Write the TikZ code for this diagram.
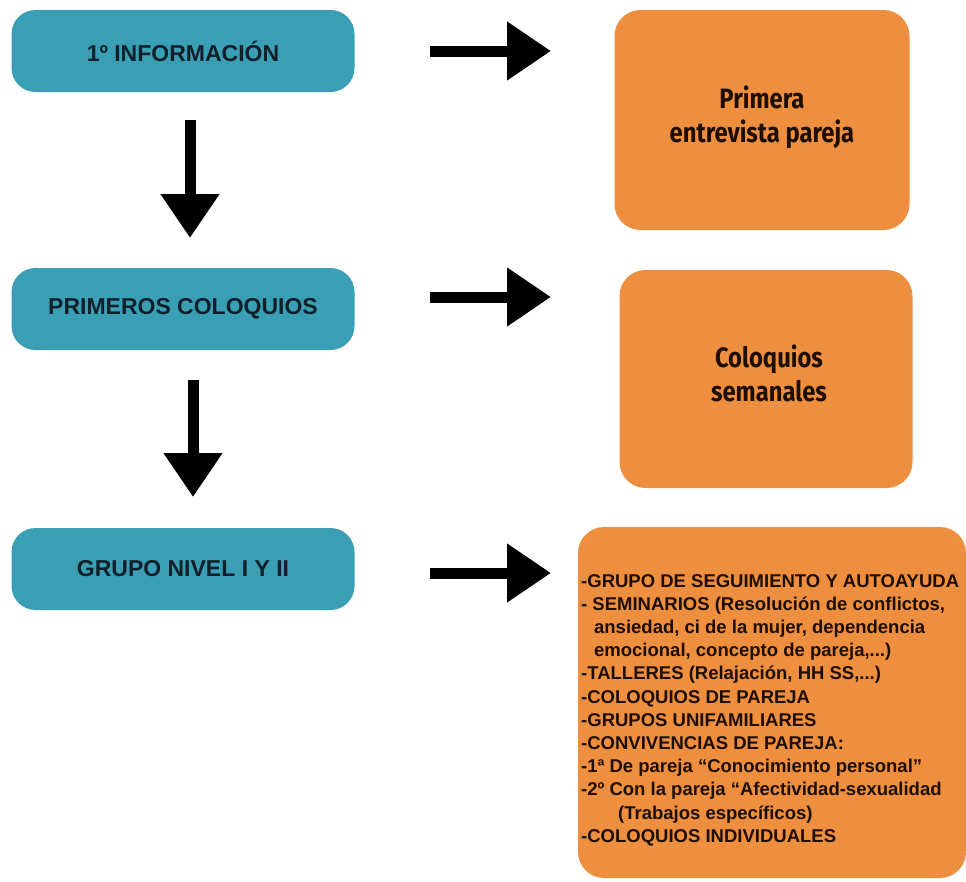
\documentclass[tikz,border=0pt]{standalone}
\usepackage{fontspec}
\setmainfont{Liberation Sans}
\newfontfamily\condfont[FakeStretch=0.85]{Fira Sans}
\usetikzlibrary{arrows.meta,calc}
\definecolor{tealbox}{HTML}{3A9FB5}
\definecolor{orangebox}{HTML}{EE8E3F}
\definecolor{darktxt}{HTML}{10202A}
\definecolor{browntxt}{HTML}{1E0E00}
\tikzset{
  bluebox/.style={fill=tealbox, rounded corners=24pt, minimum width=343pt, minimum height=82pt,
    inner sep=0pt, font=\fontsize{23}{27}\selectfont\bfseries, text=darktxt},
  orangeboxst/.style={fill=orangebox, rounded corners=26pt, inner sep=0pt},
  orangetext/.style={font=\condfont\fontsize{28}{34}\selectfont\bfseries, text=browntxt, align=center},
  bigarrow/.style={line width=11pt, -{Triangle[width=56pt,length=44pt]}, black},
}
\begin{document}
\begin{tikzpicture}[x=1pt,y=-1pt]
\useasboundingbox (0,0) rectangle (966,881);
% left column
\node[bluebox] (b1) at (183,51) {1º INFORMACIÓN};
\node[bluebox] (b2) at (183,309) {PRIMEROS COLOQUIOS};
\node[bluebox] (b3) at (183,569) {GRUPO NIVEL I Y II};
% right column
\node[orangeboxst, minimum width=295pt, minimum height=220pt] (o1) at (762,120) {};
\node[orangetext] (t1) at (762,117) {Primera\\entrevista pareja};
\node[orangeboxst, minimum width=293pt, minimum height=218pt] (o2) at (766,379) {};
\node[orangetext] (t2) at (769,373) {Coloquios\\semanales};
\node[orangeboxst, minimum width=388pt, minimum height=351pt] (o3) at (772,702.5) {};
\node[anchor=west, inner sep=0pt, text=browntxt, align=left,
      font=\fontsize{18.5}{23.2}\selectfont\bfseries] (t3) at (581,710) {%
-GRUPO DE SEGUIMIENTO Y AUTOAYUDA\\
- SEMINARIOS (Resolución de conflictos,\\
\hspace*{0.7em}ansiedad, ci de la mujer, dependencia\\
\hspace*{0.7em}emocional, concepto de pareja,...)\\
-TALLERES (Relajación, HH SS,...)\\
-COLOQUIOS DE PAREJA\\
-GRUPOS UNIFAMILIARES\\
-CONVIVENCIAS DE PAREJA:\\
-1ª De pareja “Conocimiento personal”\\
-2º Con la pareja “Afectividad-sexualidad\\
\hspace*{2em}(Trabajos específicos)\\
-COLOQUIOS INDIVIDUALES};
% arrow end points
\coordinate (r1s) at (430,51);  \coordinate (r1e) at (551,51);
\coordinate (r2s) at (430,297); \coordinate (r2e) at (551,297);
\coordinate (r3s) at (430,573); \coordinate (r3e) at (551,573);
\coordinate (d1s) at (190,120); \coordinate (d1e) at (190,238);
\coordinate (d2s) at (193,380); \coordinate (d2e) at (193,497);
\draw[bigarrow] (r1s) -- (r1e);
\draw[bigarrow] (r2s) -- (r2e);
\draw[bigarrow] (r3s) -- (r3e);
\draw[bigarrow] (d1s) -- (d1e);
\draw[bigarrow] (d2s) -- (d2e);
\end{tikzpicture}
\end{document}
